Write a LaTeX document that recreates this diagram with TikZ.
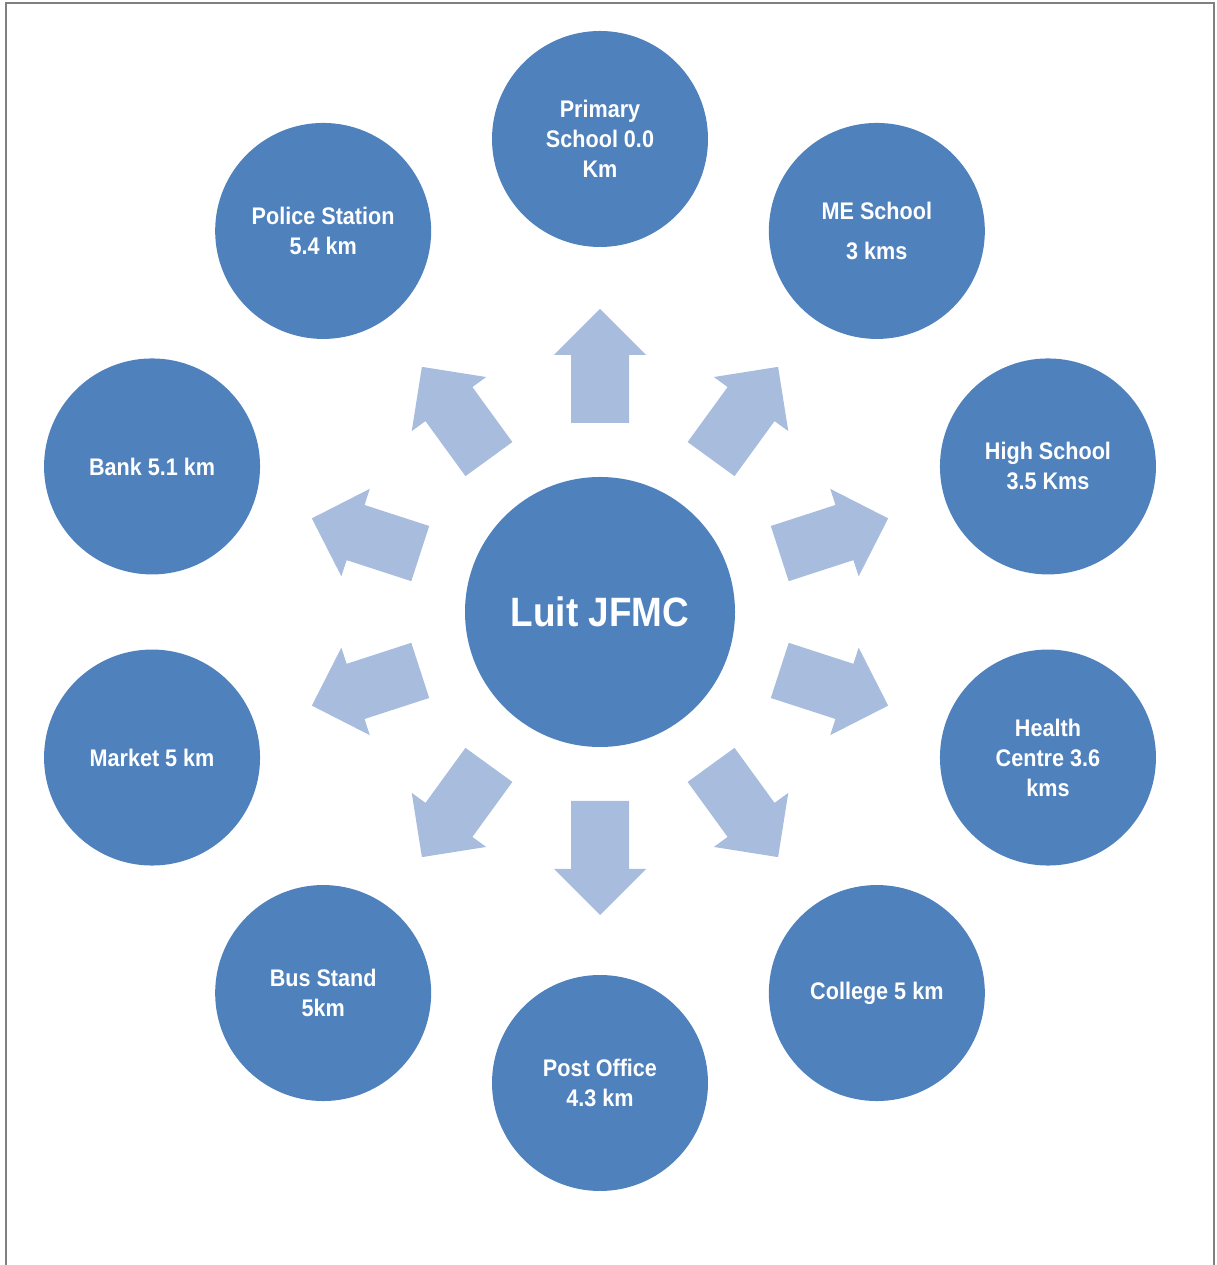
\documentclass[tikz,border=0pt]{standalone}
\usepackage{fontspec}
\usetikzlibrary{calc}
\setmainfont{Liberation Sans}[FakeStretch=0.9]
\definecolor{circblue}{HTML}{4F81BD}
\definecolor{arrowblue}{HTML}{A8BCDE}
\definecolor{framegray}{HTML}{808080}
\begin{document}
\begin{tikzpicture}[x=1pt,y=1pt,
  outer/.style={circle,fill=circblue,minimum size=216pt,inner sep=0pt,text=white,align=center,
    font=\fontsize{24}{30}\selectfont\bfseries},
  hub/.style={circle,fill=circblue,minimum size=270pt,inner sep=0pt,text=white,align=center,
    font=\fontsize{41}{48}\selectfont\bfseries},
  spoke/.style={fill=arrowblue}]
\useasboundingbox (0,0) rectangle (1216,1265);
\draw[framegray,line width=2pt] (5.5,0) -- (5.5,1262) -- (1214,1262) -- (1214,0);
\coordinate (c) at (600,653);
\node[hub] (hub) at (c) {Luit JFMC};
% spokes
\foreach \a in {90,54,18,-18,-54,-90,-126,-162,162,126}{
  \fill[spoke,shift={(c)},rotate=\a] (189,-29) -- (257,-29) -- (257,-46) -- (303,0) -- (257,46) -- (257,29) -- (189,29) -- cycle;
}
\node[outer] (primary) at ($(c)+(90:473)$) {Primary\\School 0.0\\Km};
\node[outer] (me) at ($(c)+(54:471)$) {ME School\\[10pt]3 kms};
\node[outer] (high) at ($(c)+(18:471)$) {High School\\3.5 Kms};
\node[outer] (health) at ($(c)+(-18:471)$) {Health\\Centre 3.6\\kms};
\node[outer] (college) at ($(c)+(-54:471)$) {College 5 km};
\node[outer] (post) at ($(c)+(-90:471)$) {Post Office\\4.3 km};
\node[outer] (bus) at ($(c)+(-126:471)$) {Bus Stand\\5km};
\node[outer] (market) at ($(c)+(-162:471)$) {Market 5 km};
\node[outer] (bank) at ($(c)+(162:471)$) {Bank 5.1 km};
\node[outer] (police) at ($(c)+(126:471)$) {Police Station\\5.4 km};
\end{tikzpicture}
\end{document}
